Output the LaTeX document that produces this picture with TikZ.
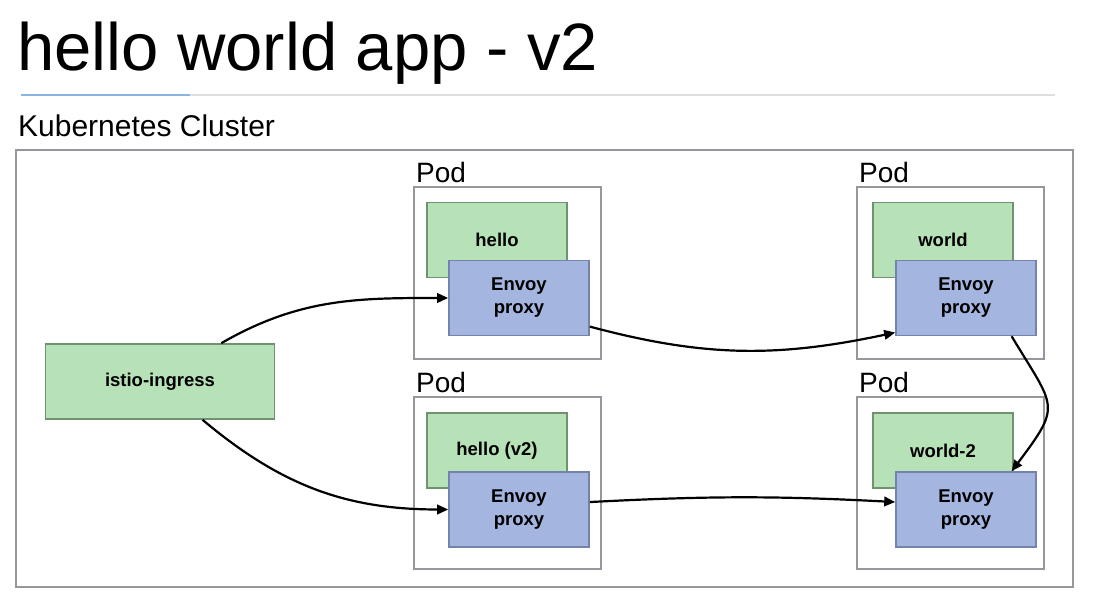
\documentclass[tikz,border=0pt]{standalone}
\usepackage{fontspec}
\setmainfont{Liberation Sans}
\usepackage{tikz}
\usetikzlibrary{arrows.meta}

\definecolor{appgreen}{RGB}{183,225,183}
\definecolor{appgreenline}{RGB}{112,146,112}
\definecolor{envoyblue}{RGB}{164,181,224}
\definecolor{envoyline}{RGB}{116,131,172}
\definecolor{podgray}{RGB}{150,150,156}
\definecolor{ruleblue}{RGB}{140,180,226}

\begin{document}
\begin{tikzpicture}[x=1pt,y=1pt,
        >={Triangle[length=11pt,width=9.5pt]},
        mycluster/.style={draw=podgray,line width=2pt,minimum width=1057pt,minimum height=437pt},
        mypod/.style={draw=podgray,line width=2pt,minimum width=187pt,minimum height=172pt},
        myapp/.style={draw=appgreenline,fill=appgreen,line width=1.6pt,minimum width=140pt,minimum height=75pt,
                font=\bfseries\fontsize{18.5}{23}\selectfont,align=center},
        myenvoy/.style={myapp,draw=envoyline,fill=envoyblue},
        mylabel/.style={anchor=base west,inner sep=0pt,font=\fontsize{28}{30}\selectfont},
        myarrow/.style={line width=2.2pt}]
        \useasboundingbox (0,0) rectangle (1095,596);
        
        %title
        \node[anchor=base west,inner sep=0pt,font=\fontsize{67}{70}\selectfont] (title) at (17,525) {hello world app - v2};
        \draw [line width=1.2pt, black!13] (21,501) -- (1055,501);
        \draw [line width=1.6pt, ruleblue] (21,501) -- (190,501);
        \node[mylabel,font=\fontsize{30}{32}\selectfont] (k8slbl) at (18,459) {Kubernetes Cluster};
        
        %cluster and pods
        \node[mycluster] (k8s) at (544,227.5) {};
        \node[mypod] (podHello) at (507.5,323) {};
        \node[mypod] (podHelloV2) at (507.5,112.5) {};
        \node[mypod] (podWorld) at (950.5,323) {};
        \node[mypod] (podWorldTwo) at (950.5,112.5) {};
        
        %label pod
        \node[mylabel] (lblHello) at (416,413) {Pod};
        \node[mylabel] (lblHelloV2) at (416,203) {Pod};
        \node[mylabel] (lblWorld) at (859,413) {Pod};
        \node[mylabel] (lblWorldTwo) at (859,203) {Pod};
        
        %apps
        \node[myapp] (ingress) at (160,214.5) [minimum width=229pt] {istio-ingress};
        \node[myapp] (hello) at (497,356) {hello};
        \node[myapp] (helloV2) at (497,145.5) {hello (v2)};
        \node[myapp] (world) at (943,356) {world};
        \node[myapp] (worldTwo) at (943,145.5) {world-2};
        
        %envoy proxies
        \node[myenvoy] (envoyHello) at (519,298) {Envoy\\proxy};
        \node[myenvoy] (envoyHelloV2) at (519,86.5) {Envoy\\proxy};
        \node[myenvoy] (envoyWorld) at (966,298) {Envoy\\proxy};
        \node[myenvoy] (envoyWorldTwo) at (966,86.5) {Envoy\\proxy};
        
        %arrows
        \draw [->, myarrow] (ingress.32) to[out=30, in=180] (envoyHello.west);
        \draw [->, myarrow] (ingress.-42) to[out=-40, in=180] (envoyHelloV2.west);
        \draw [->, myarrow] (envoyHello.-22) to[out=-15, in=192] (envoyWorld.206);
        \draw [->, myarrow] (envoyHelloV2.6) to[bend left=3] (envoyWorldTwo.174);
        \draw [->, myarrow] (envoyWorld.-40) to[out=-59, in=53, looseness=1.6] (envoyWorldTwo.40);
        \end{tikzpicture}
\end{document}
